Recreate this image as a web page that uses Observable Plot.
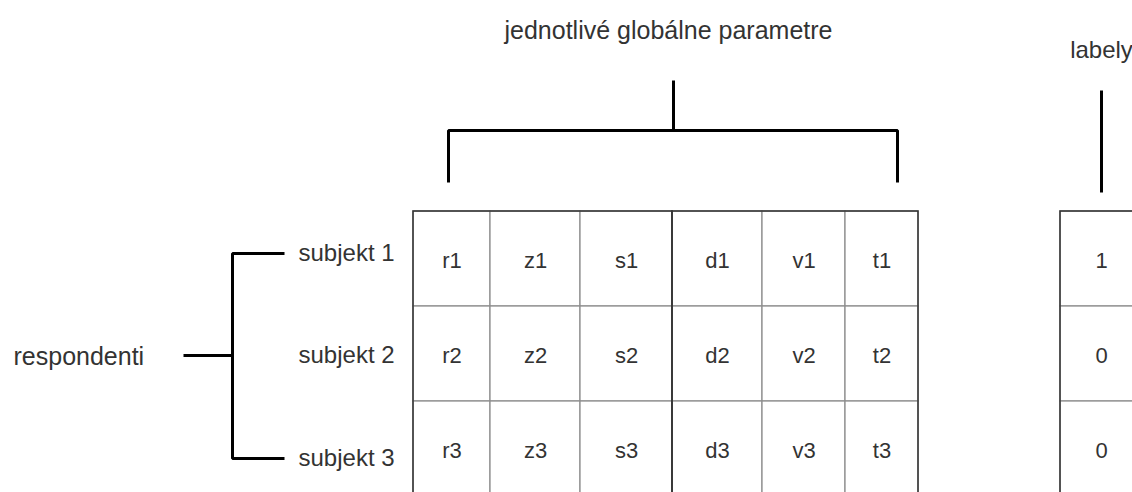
<!DOCTYPE html>
<html>
<head>
<meta charset="utf-8">
<script src="https://cdn.jsdelivr.net/npm/d3@7"></script>
<script src="https://cdn.jsdelivr.net/npm/@observablehq/plot@0.6"></script>
<style>
  html, body { margin: 0; padding: 0; background: #fff; overflow: hidden; }
  #chart svg { display: block; overflow: hidden; }
</style>
</head>
<body>
<div id="chart"></div>
<script>
// ---- data ----
const parameters = ["r", "z", "s", "d", "v", "t"];
const subjects = ["subjekt 1", "subjekt 2", "subjekt 3"];
const labelValues = [1, 0, 0];
const groupTitle = "jednotlivé globálne parametre";
const rowTitle = "respondenti";
const labelTitle = "labely";

// ---- layout (pixel units of the diagram) ----
const W = 1132, H = 492;
const colEdges = [413, 490, 580, 672, 762, 845, 918];
const rowEdges = [211, 306, 401, 496];
const labelCol = [1060, 1140];
const labelCenter = 1101;
const groupSplit = 3; // parameters split in two boxes
const subjectY = [253, 355, 458];
const fontFamily = "'Liberation Sans', Arial, sans-serif";
const textColor = "#333";

// ---- derived tables ----
const cells = [];
subjects.forEach((s, i) => parameters.forEach((p, j) => cells.push({
  x1: colEdges[j], x2: colEdges[j + 1], y1: rowEdges[i], y2: rowEdges[i + 1],
  text: p + (i + 1)
})));
const labelCells = labelValues.map((v, i) => ({
  x1: labelCol[0], x2: labelCol[1], y1: rowEdges[i], y2: rowEdges[i + 1], text: String(v)
}));
const boxes = [
  {x1: colEdges[0], x2: colEdges[groupSplit], y1: rowEdges[0], y2: rowEdges[3]},
  {x1: colEdges[groupSplit], x2: colEdges[6], y1: rowEdges[0], y2: rowEdges[3]},
  {x1: labelCol[0], x2: labelCol[1], y1: rowEdges[0], y2: rowEdges[3]}
];
const subjectLabels = subjects.map((s, i) => ({x: 298, y: subjectY[i], text: s}));

const bracketTopX = [448, 897], bracketTopY = [182, 130], stemTop = [673, 80];
const brackets = [
  {id: "top", pts: [[bracketTopX[0], bracketTopY[0]], [bracketTopX[0], bracketTopY[1]], [bracketTopX[1], bracketTopY[1]], [bracketTopX[1], bracketTopY[0]]]},
  {id: "topStem", pts: [[stemTop[0], bracketTopY[1]], [stemTop[0], stemTop[1]]]},
  {id: "left", pts: [[284, subjectY[0]], [232, subjectY[0]], [232, subjectY[2]], [284, subjectY[2]]]},
  {id: "leftStem", pts: [[183, subjectY[1]], [232, subjectY[1]]]},
  {id: "label", pts: [[labelCenter, 90], [labelCenter, 192]]}
];
const bracketPts = brackets.flatMap(b => b.pts.map(([x, y]) => ({id: b.id, x, y})));

const chart = Plot.plot({
  width: W, height: H,
  margin: 0,
  style: {fontFamily, background: "#fff"},
  x: {domain: [0, W], range: [0, W], axis: null},
  y: {domain: [0, H], range: [0, H], axis: null},
  marks: [
    Plot.rect(cells, {x1: "x1", x2: "x2", y1: "y1", y2: "y2", fill: "#fff", stroke: "#8f8f8f", strokeWidth: 1.3}),
    Plot.rect(labelCells, {x1: "x1", x2: "x2", y1: "y1", y2: "y2", fill: "#fff", stroke: "#8f8f8f", strokeWidth: 1.3}),
    Plot.rect(boxes, {x1: "x1", x2: "x2", y1: "y1", y2: "y2", fill: "none", stroke: "#333", strokeWidth: 1.5}),
    Plot.text(cells, {x: d => (d.x1 + d.x2) / 2, y: d => (d.y1 + d.y2) / 2 + 2, text: "text", fontSize: 22, fill: textColor}),
    Plot.text(labelCells, {x: labelCenter, y: d => (d.y1 + d.y2) / 2 + 2, text: "text", fontSize: 22, fill: textColor}),
    Plot.line(bracketPts, {x: "x", y: "y", z: "id", stroke: "#000", strokeWidth: 3, strokeLinecap: "butt", strokeLinejoin: "miter"}),
    Plot.text([groupTitle], {x: 668, y: 30, text: d => d, fontSize: 25, fill: textColor}),
    Plot.text([labelTitle], {x: labelCenter, y: 50, text: d => d, fontSize: 24, fill: textColor}),
    Plot.text([rowTitle], {x: 13, y: 356, text: d => d, textAnchor: "start", fontSize: 25, fill: textColor}),
    Plot.text(subjectLabels, {x: "x", y: "y", text: "text", textAnchor: "start", fontSize: 24, fill: textColor})
  ]
});
document.getElementById("chart").appendChild(chart);
</script>
</body>
</html>
